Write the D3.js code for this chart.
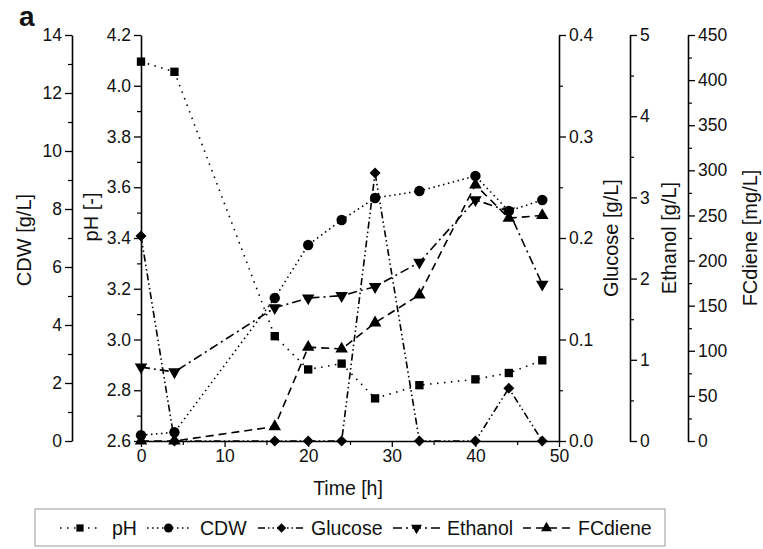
<!DOCTYPE html>
<html><head><meta charset="utf-8">
<script src="https://cdn.jsdelivr.net/npm/d3@7"></script>
<style>
body{margin:0;background:#fff;}
svg{font-family:"Liberation Sans",Arial,sans-serif;}
</style></head>
<body><svg id="c" width="763" height="549"></svg>
<script>
const time = [0, 4, 16, 20, 24, 28, 33.3, 40, 44, 48];
const pH = [4.095, 4.055, 3.013, 2.882, 2.905, 2.768, 2.82, 2.843, 2.868, 2.918];
const cdw = [0.2, 0.3, 4.93, 6.76, 7.62, 8.38, 8.62, 9.14, 7.93, 8.31];
const glucose = [0.202, 0, 0, 0, 0, 0.264, 0, 0, 0.052, 0];
const ethanol = [0.91, 0.85, 1.64, 1.76, 1.79, 1.9, 2.2, 2.97, 2.83, 1.93];
const fcdiene = [0, 0, 16, 104, 102, 131, 162, 284, 247, 250];
const xTicks = [0, 10, 20, 30, 40, 50];
const seriesNames = ["pH", "CDW", "Glucose", "Ethanol", "FCdiene"];

const svg = d3.select("#c");
const X0 = 141, X1 = 559, Y0 = 441, Y1 = 35;
const x = d3.scaleLinear().domain([0, 50]).range([X0, X1]);
const yPH = d3.scaleLinear().domain([2.6, 4.2]).range([Y0, Y1]);
const yCDW = d3.scaleLinear().domain([0, 14]).range([Y0, Y1]);
const yGlu = d3.scaleLinear().domain([0, 0.4]).range([Y0, Y1]);
const yEth = d3.scaleLinear().domain([0, 5]).range([Y0, Y1]);
const yFC = d3.scaleLinear().domain([0, 450]).range([Y0, Y1]);

const FS = 17.5;
function styleAxis(g){
  g.selectAll(".domain").attr("stroke","#000").attr("stroke-width",1.6);
  g.selectAll(".tick line").attr("stroke","#000").attr("stroke-width",1.3);
  g.selectAll("text").attr("font-size",FS).attr("fill","#111").attr("font-family","Liberation Sans, Arial, sans-serif");
}
function minor(g, axisFn, scale, vals, len){
  g.append("g").call(axisFn(scale).tickValues(vals).tickSize(len).tickFormat("").tickSizeOuter(0))
   .call(s=>{s.select(".domain").remove(); s.selectAll(".tick line").attr("stroke","#000").attr("stroke-width",1.2);});
}
function vAxis(px, scale, axisFn, majors, minors, fmt){
  const g = svg.append("g").attr("transform",`translate(${px},0)`);
  minor(g, axisFn, scale, minors, 4);
  g.append("g").call(axisFn(scale).tickValues(majors).tickSize(7).tickPadding(3).tickSizeOuter(0).tickFormat(fmt)).call(styleAxis);
  return g;
}
const rng = (a,b,s)=>d3.range(0, Math.round((b-a)/s)+1).map(i=>+(a+i*s).toFixed(4));

vAxis(72, yCDW, d3.axisLeft, rng(0,14,2), rng(1,13,2), d3.format("d"));
vAxis(X0, yPH, d3.axisLeft, rng(2.6,4.2,0.2), rng(2.7,4.1,0.2), d3.format(".1f"));
vAxis(559, yGlu, d3.axisRight, rng(0,0.4,0.1), rng(0.05,0.35,0.1), d3.format(".1f"));
vAxis(630, yEth, d3.axisRight, rng(0,5,1), rng(0.5,4.5,1), d3.format("d"));
vAxis(688, yFC, d3.axisRight, rng(0,450,50), rng(25,425,50), d3.format("d"));

const gx = svg.append("g").attr("transform",`translate(0,${Y0})`);
minor(gx, d3.axisBottom, x, [5,15,25,35,45], 4);
gx.append("g").call(d3.axisBottom(x).tickValues(xTicks).tickSize(6).tickPadding(3).tickSizeOuter(0).tickFormat(d3.format("d"))).call(styleAxis);

// axis titles
function vTitle(px, py, t){
  svg.append("text").attr("transform",`translate(${px},${py}) rotate(-90)`).attr("text-anchor","middle")
    .attr("font-size",20).attr("fill","#111").text(t);
}
vTitle(31, 240, "CDW [g/L]");
vTitle(98, 217, "pH [-]");
vTitle(618, 238, "Glucose [g/L]");
vTitle(676, 238, "Ethanol [g/L]");
vTitle(757, 238, "FCdiene [mg/L]");
svg.append("text").attr("x",348).attr("y",495).attr("text-anchor","middle").attr("font-size",19.5).attr("fill","#111").text("Time [h]");
svg.append("text").attr("x",19).attr("y",26).attr("font-size",28).attr("font-weight","bold").attr("fill","#111").text("a");

const series = [
  {name:seriesNames[0], vals:pH, y:yPH, dash:"1.5,5.5", sym:d3.symbolSquare, size:70, rot:0},
  {name:seriesNames[1], vals:cdw, y:yCDW, dash:"1.5,3.5", sym:d3.symbolCircle, size:85, rot:0},
  {name:seriesNames[2], vals:glucose, y:yGlu, dash:"7,3,1.5,3,1.5,3", sym:d3.symbolSquare, size:60, rot:45},
  {name:seriesNames[3], vals:ethanol, y:yEth, dash:"9,4,2,4", sym:d3.symbolTriangle, size:68, rot:180},
  {name:seriesNames[4], vals:fcdiene, y:yFC, dash:"8,5", sym:d3.symbolTriangle, size:68, rot:0}
];
series.forEach(s=>{
  const line = d3.line().x((d,i)=>x(time[i])).y(d=>s.y(d));
  svg.append("path").datum(s.vals).attr("d",line).attr("fill","none").attr("stroke","#000")
    .attr("stroke-width",1.6).attr("stroke-dasharray",s.dash);
});
series.forEach(s=>{
  svg.append("g").selectAll("path").data(s.vals).join("path")
    .attr("d", d3.symbol().type(s.sym).size(s.size))
    .attr("transform",(d,i)=>`translate(${x(time[i])},${s.y(d)}) rotate(${s.rot})`)
    .attr("fill","#000");
});

// legend
svg.append("rect").attr("x",35).attr("y",509).attr("width",630).attr("height",37)
  .attr("fill","#fff").attr("stroke","#aaa").attr("stroke-width",1.2);
const legPos = [[60,100,112],[147,190,200],[258,305,311],[393,440,447],[523,570,578]];
series.forEach((s,k)=>{
  const [a,b,t] = legPos[k], ly = 528;
  svg.append("line").attr("x1",a).attr("x2",b).attr("y1",ly).attr("y2",ly).attr("stroke","#000")
    .attr("stroke-width",1.4).attr("stroke-dasharray",s.dash);
  svg.append("path").attr("d",d3.symbol().type(s.sym).size(s.size*0.75))
    .attr("transform",`translate(${(a+b)/2},${ly}) rotate(${s.rot})`).attr("fill","#000");
  svg.append("text").attr("x",t).attr("y",ly+7).attr("font-size",19.5).attr("fill","#111").text(s.name);
});
</script></body></html>
